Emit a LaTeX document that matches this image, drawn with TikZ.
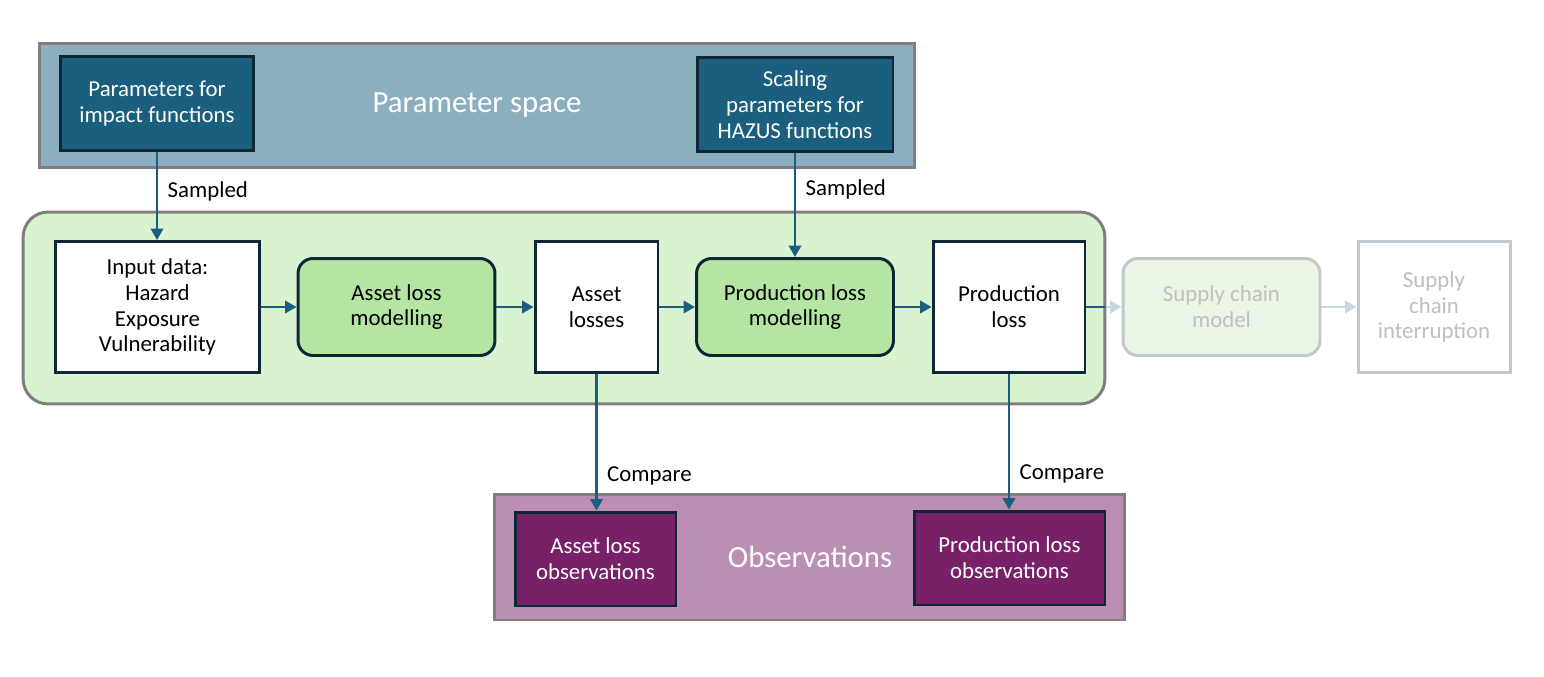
\documentclass[tikz,border=0pt]{standalone}
\usepackage{fontspec}
\setmainfont{Carlito}
\usetikzlibrary{arrows.meta,positioning}
\definecolor{psfill}{HTML}{8CAFBF}
\definecolor{teal}{HTML}{1A5F7E}
\definecolor{navy}{HTML}{0E2636}
\definecolor{framegrey}{HTML}{7F7F7F}
\definecolor{chainbg}{HTML}{D9F2D0}
\definecolor{modelfill}{HTML}{B4E5A2}
\definecolor{obsfill}{HTML}{BB8FB4}
\definecolor{obsbox}{HTML}{782169}
\definecolor{fadeline}{HTML}{C2C8CC}
\definecolor{fadetext}{HTML}{BFBFBF}
\definecolor{fadefill}{HTML}{EBF6E6}
\definecolor{fadearrow}{HTML}{C5D9E1}
\begin{document}
\begin{tikzpicture}[x=0.02cm, y=-0.02cm,
    txt/.style={font=\fontsize{13}{14.7}\selectfont, align=center},
    frame/.style={draw=framegrey, line width=1.7pt},
    param/.style={txt, draw=navy, fill=teal, text=white, line width=1.7pt, minimum height=1.88cm},
    plain/.style={txt, draw=navy, fill=white, line width=1.7pt, minimum height=2.62cm},
    model/.style={txt, draw=navy, fill=modelfill, line width=1.7pt, rounded corners=0.3cm, minimum width=3.94cm, minimum height=1.94cm},
    obsnode/.style={txt, draw=navy, fill=obsbox, text=white, line width=1.7pt, minimum height=1.88cm},
    flow/.style={draw=teal, line width=1.5pt, -{Triangle[length=6.5pt, width=7pt]}},
    lbl/.style={font=\fontsize{13}{15}\selectfont, anchor=west}]
    \useasboundingbox (0,0) rectangle (1544,676);
    % group frames
    \node[frame, fill=psfill, minimum width=17.52cm, minimum height=2.5cm] (pspace) at (477,105.5) {};
    \node[text=white, font=\fontsize{17.5}{19}\selectfont] (pspacetxt) at (477,105) {Parameter space};
    \node[frame, fill=chainbg, rounded corners=0.5cm, minimum width=21.64cm, minimum height=3.84cm] (chain) at (564,308) {};
    \node[frame, fill=obsfill, minimum width=12.62cm, minimum height=2.52cm] (obs) at (809.5,557) {};
    \node[text=white, font=\fontsize{17.5}{19}\selectfont] (obstxt) at (810,557) {Observations};
    % parameters
    \node[param, minimum width=3.88cm] (pimpact) at (157,103.5) {Parameters for\\impact functions};
    \node[param, minimum width=3.92cm] (pscale) at (795,104.5) {Scaling\\parameters for\\HAZUS functions};
    % model chain
    \node[plain, minimum width=4.1cm] (input) at (157.5,307) {Input data:\\Hazard\\Exposure\\Vulnerability};
    \node[model] (assetmod) at (396.5,307) {Asset loss\\modelling};
    \node[plain, minimum width=2.46cm] (assetloss) at (596.5,307) {Asset\\losses};
    \node[model] (prodmod) at (795,307) {Production loss\\modelling};
    \node[plain, minimum width=3.04cm] (prodloss) at (1009,307) {Production\\loss};
    \node[model, draw=fadeline, fill=fadefill, text=fadetext] (scmodel) at (1221.5,307) {Supply chain\\model};
    \node[plain, draw=fadeline, text=fadetext, minimum width=3.04cm] (scint) at (1434,307) {Supply\\chain\\interruption};
    % observations
    \node[obsnode, minimum width=3.22cm] (assetobs) at (595.5,559) {Asset loss\\observations};
    \node[obsnode, minimum width=3.82cm] (prodobs) at (1009.5,558) {Production loss\\observations};
    % connectors
    \draw[flow] (pimpact.south) -- (pimpact.south |- input.north) node[lbl, pos=0.45, xshift=2pt] {Sampled};
    \draw[flow] (pscale.south) -- (pscale.south |- prodmod.north) node[lbl, pos=0.35, xshift=2pt] {Sampled};
    \draw[flow] (input.east) -- (assetmod.west);
    \draw[flow] (assetmod.east) -- (assetloss.west);
    \draw[flow] (assetloss.east) -- (prodmod.west);
    \draw[flow] (prodmod.east) -- (prodloss.west);
    \coordinate (chainexit) at (prodloss.east -| chain.east);
    \draw[draw=teal, line width=1.5pt] (prodloss.east) -- (chainexit);
    \draw[flow, draw=fadearrow, fill=fadearrow] (chainexit) -- (chainexit -| scmodel.west);
    \draw[flow, draw=fadearrow, fill=fadearrow] (scmodel.east) -- (scmodel.east -| scint.west);
    \draw[flow] (assetloss.south) -- (assetloss.south |- assetobs.north) node[lbl, pos=0.75, xshift=2pt] {Compare};
    \draw[flow] (prodloss.south) -- (prodloss.south |- prodobs.north) node[lbl, pos=0.74, xshift=2pt] {Compare};
\end{tikzpicture}
\end{document}
